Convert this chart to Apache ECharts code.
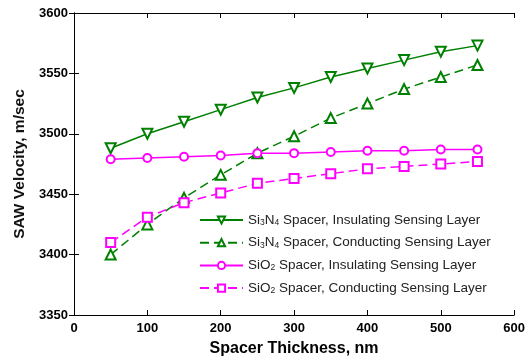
<!DOCTYPE html>
<html>
<head>
<meta charset="utf-8">
<script src="https://cdn.jsdelivr.net/npm/echarts@6/dist/echarts.min.js"></script>
<style>
  html, body { margin: 0; padding: 0; background: #fff; }
  #chart { width: 528px; height: 362px; }
</style>
</head>
<body>
<div id="chart"></div>
<script>
// spacer thickness, nm
var thickness = [50, 100, 150, 200, 250, 300, 350, 400, 450, 500, 550];

// SAW velocity, m/sec
var si3n4Insulating = [3488, 3500, 3510, 3520, 3530, 3538, 3547, 3554, 3561, 3568, 3573];
var si3n4Conducting = [3400, 3425, 3447, 3466, 3484, 3498, 3513, 3525, 3537, 3547, 3557];
var sio2Insulating  = [3479, 3480, 3481, 3482, 3484, 3484, 3485, 3486, 3486, 3487, 3487];
var sio2Conducting  = [3410, 3431, 3443, 3451, 3459, 3463, 3467, 3471, 3473, 3475, 3477];

var seriesNames = [
  '{n|Si}{s|3}{n|N}{s|4}{n| Spacer, Insulating Sensing Layer}',
  '{n|Si}{s|3}{n|N}{s|4}{n| Spacer, Conducting Sensing Layer}',
  '{n|SiO}{s|2}{n| Spacer, Insulating Sensing Layer}',
  '{n|SiO}{s|2}{n| Spacer, Conducting Sensing Layer}'
];

var green = '#008000';
var magenta = '#ff00ff';
var font = '"Liberation Sans", Arial, sans-serif';

function pairs(ys) {
  return thickness.map(function (x, i) { return [x, ys[i]]; });
}

var chart = echarts.init(document.getElementById('chart'));

function mkSeries(name, ys, color, symbol, size, rotate, dashed) {
  return {
    name: name,
    type: 'line',
    data: pairs(ys),
    symbol: symbol,
    symbolSize: size,
    symbolRotate: rotate,
    showAllSymbol: true,
    lineStyle: { color: color, width: 1.5, type: dashed ? [9, 5] : 'solid' },
    itemStyle: { color: color, borderColor: color, borderWidth: 1.5 },
    animation: false
  };
}

var option = {
  backgroundColor: '#fff',
  animation: false,
  grid: { left: 74, right: 13, top: 13, bottom: 45 },
  legend: {
    orient: 'vertical',
    left: 194,
    top: 208,
    itemWidth: 43,
    itemHeight: 9,
    itemGap: 8.7,
    textStyle: {
      fontFamily: font,
      fontSize: 13.5,
      color: '#222',
      rich: {
        n: { fontFamily: font, fontSize: 13.5, color: '#222' },
        s: { fontFamily: font, fontSize: 8.5, color: '#222', verticalAlign: 'bottom', padding: [4, 0, 0, 0] }
      }
    },
    data: seriesNames
  },
  xAxis: [{
    type: 'value',
    min: 0, max: 600, interval: 100,
    name: 'Spacer Thickness, nm',
    nameLocation: 'middle',
    nameGap: 26,
    nameTextStyle: { fontFamily: font, fontSize: 16, fontWeight: 'bold', color: '#000' },
    axisLine: { onZero: false, lineStyle: { color: '#000', width: 1 } },
    axisTick: { inside: true, length: 5, lineStyle: { color: '#000' } },
    axisLabel: { fontFamily: font, fontSize: 13, fontWeight: 'bold', color: '#000', margin: 7 },
    splitLine: { show: false }
  }, {
    type: 'value',
    position: 'top',
    min: 0, max: 600, interval: 100,
    axisLine: { lineStyle: { color: '#000', width: 1 } },
    axisTick: { inside: true, length: 5, lineStyle: { color: '#000' } },
    axisLabel: { show: false },
    splitLine: { show: false }
  }],
  yAxis: [{
    type: 'value',
    min: 3350, max: 3600, interval: 50,
    name: 'SAW Velocity, m/sec',
    nameLocation: 'middle',
    nameGap: 43,
    nameTextStyle: { fontFamily: font, fontSize: 15.5, fontWeight: 'bold', color: '#111' },
    axisLine: { show: true, onZero: false, lineStyle: { color: '#000', width: 1 } },
    axisTick: { show: true, inside: true, length: 5, lineStyle: { color: '#000' } },
    axisLabel: {
      fontFamily: font, fontSize: 13, fontWeight: 'bold', color: '#000', margin: 6,
      formatter: function (v) { return String(v); }
    },
    splitLine: { show: false }
  }, {
    type: 'value',
    position: 'right',
    min: 3350, max: 3600, interval: 50,
    axisLine: { show: true, lineStyle: { color: '#000', width: 1 } },
    axisTick: { show: true, inside: true, length: 5, lineStyle: { color: '#000' } },
    axisLabel: { show: false },
    splitLine: { show: false }
  }],
  series: [
    mkSeries(seriesNames[0], si3n4Insulating, green, 'emptyTriangle', 10, 180, false),
    mkSeries(seriesNames[1], si3n4Conducting, green, 'emptyTriangle', 10, 0, true),
    mkSeries(seriesNames[2], sio2Insulating, magenta, 'emptyCircle', 8, 0, false),
    mkSeries(seriesNames[3], sio2Conducting, magenta, 'emptyRect', 9, 0, true)
  ]
};

chart.setOption(option);
</script>
</body>
</html>
